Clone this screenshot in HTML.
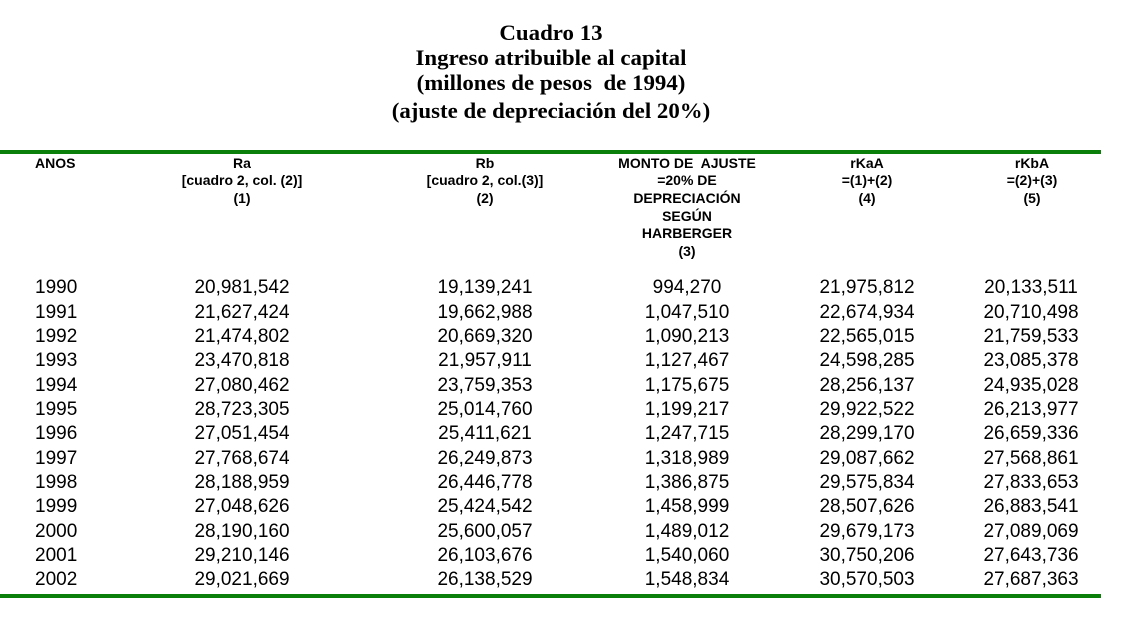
<!DOCTYPE html>
<html>
<head>
<meta charset="utf-8">
<style>
  html, body { margin: 0; padding: 0; background: #fff; }
  body { width: 1128px; height: 622px; position: relative; overflow: hidden; }
  .t { position: absolute; left: 351px; width: 400px; text-align: center;
       font-family: "Liberation Serif", "Times New Roman", serif; font-weight: bold;
       font-size: 22px; line-height: 24.8px; color: #000; white-space: pre;
       transform: scaleX(1.04); transform-origin: center; }
  .h { position: absolute; font-family: "Liberation Sans", Arial, sans-serif; font-weight: bold;
       font-size: 14px; line-height: 17.6px; color: #000; white-space: pre; text-align: center; width: 240px; }
  .r { position: absolute; left: 0; width: 1128px; height: 24px; }
  .c { position: absolute; top: 0; font-family: "Liberation Sans", Arial, sans-serif;
       font-size: 19px; line-height: 24px; color: #000; white-space: pre; text-align: center; width: 200px; }
  .y { text-align: left; left: 35px; width: 80px; }
  .c1 { left: 142px; } .c2 { left: 385px; } .c3 { left: 587px; } .c4 { left: 767px; } .c5 { left: 931px; }
  .line { position: absolute; left: 0; width: 1101px; height: 4px; background: #0a7f0a; }
</style>
</head>
<body>
<div class="t" style="top:21px">Cuadro 13
Ingreso atribuible al capital
(millones de pesos  de 1994)</div>
<div class="t" style="top:98.5px">(ajuste de depreciación del 20%)</div>

<div class="line" style="top:150px"></div>

<div class="h" style="top:154.9px; left:35px; text-align:left; width:80px">ANOS</div>
<div class="h" style="top:154.9px; left:122px">Ra
[cuadro 2, col. (2)]
(1)</div>
<div class="h" style="top:154.9px; left:365px">Rb
[cuadro 2, col.(3)]
(2)</div>
<div class="h" style="top:154.9px; left:567px">MONTO DE  AJUSTE
=20% DE
DEPRECIACIÓN
SEGÚN
HARBERGER
(3)</div>
<div class="h" style="top:154.9px; left:747px">rKaA
=(1)+(2)
(4)</div>
<div class="h" style="top:154.9px; left:912px">rKbA
=(2)+(3)
(5)</div>

<div class="r" style="top:276.4px"><div class="c y">1990</div><div class="c c1">20,981,542</div><div class="c c2">19,139,241</div><div class="c c3">994,270</div><div class="c c4">21,975,812</div><div class="c c5">20,133,511</div></div>
<div class="r" style="top:300.7px"><div class="c y">1991</div><div class="c c1">21,627,424</div><div class="c c2">19,662,988</div><div class="c c3">1,047,510</div><div class="c c4">22,674,934</div><div class="c c5">20,710,498</div></div>
<div class="r" style="top:325.1px"><div class="c y">1992</div><div class="c c1">21,474,802</div><div class="c c2">20,669,320</div><div class="c c3">1,090,213</div><div class="c c4">22,565,015</div><div class="c c5">21,759,533</div></div>
<div class="r" style="top:349.4px"><div class="c y">1993</div><div class="c c1">23,470,818</div><div class="c c2">21,957,911</div><div class="c c3">1,127,467</div><div class="c c4">24,598,285</div><div class="c c5">23,085,378</div></div>
<div class="r" style="top:373.7px"><div class="c y">1994</div><div class="c c1">27,080,462</div><div class="c c2">23,759,353</div><div class="c c3">1,175,675</div><div class="c c4">28,256,137</div><div class="c c5">24,935,028</div></div>
<div class="r" style="top:398.1px"><div class="c y">1995</div><div class="c c1">28,723,305</div><div class="c c2">25,014,760</div><div class="c c3">1,199,217</div><div class="c c4">29,922,522</div><div class="c c5">26,213,977</div></div>
<div class="r" style="top:422.4px"><div class="c y">1996</div><div class="c c1">27,051,454</div><div class="c c2">25,411,621</div><div class="c c3">1,247,715</div><div class="c c4">28,299,170</div><div class="c c5">26,659,336</div></div>
<div class="r" style="top:446.7px"><div class="c y">1997</div><div class="c c1">27,768,674</div><div class="c c2">26,249,873</div><div class="c c3">1,318,989</div><div class="c c4">29,087,662</div><div class="c c5">27,568,861</div></div>
<div class="r" style="top:471.0px"><div class="c y">1998</div><div class="c c1">28,188,959</div><div class="c c2">26,446,778</div><div class="c c3">1,386,875</div><div class="c c4">29,575,834</div><div class="c c5">27,833,653</div></div>
<div class="r" style="top:495.4px"><div class="c y">1999</div><div class="c c1">27,048,626</div><div class="c c2">25,424,542</div><div class="c c3">1,458,999</div><div class="c c4">28,507,626</div><div class="c c5">26,883,541</div></div>
<div class="r" style="top:519.7px"><div class="c y">2000</div><div class="c c1">28,190,160</div><div class="c c2">25,600,057</div><div class="c c3">1,489,012</div><div class="c c4">29,679,173</div><div class="c c5">27,089,069</div></div>
<div class="r" style="top:544.0px"><div class="c y">2001</div><div class="c c1">29,210,146</div><div class="c c2">26,103,676</div><div class="c c3">1,540,060</div><div class="c c4">30,750,206</div><div class="c c5">27,643,736</div></div>
<div class="r" style="top:568.4px"><div class="c y">2002</div><div class="c c1">29,021,669</div><div class="c c2">26,138,529</div><div class="c c3">1,548,834</div><div class="c c4">30,570,503</div><div class="c c5">27,687,363</div></div>

<div class="line" style="top:594px"></div>
</body>
</html>
